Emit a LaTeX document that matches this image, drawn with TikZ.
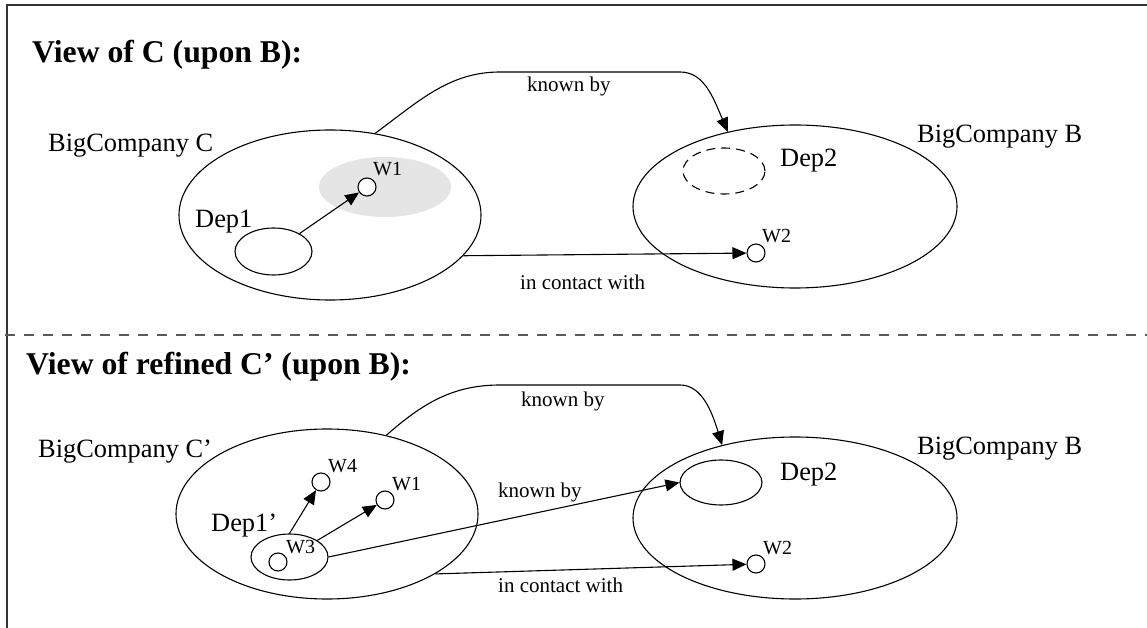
\documentclass[tikz,border=0pt]{standalone}
\usepackage{fontspec}
\setmainfont{Liberation Serif}
\usetikzlibrary{arrows.meta,shapes.geometric}
\tikzset{
  region/.style={draw, ellipse, inner sep=0pt, line width=1.1pt},
  worker/.style={draw, circle, inner sep=0pt, minimum size=18pt, fill=white, line width=1.1pt},
  conn/.style={line width=1.1pt, -{Triangle[length=14pt,width=12pt]}},
  bigtext/.style={anchor=base west, inner sep=0pt, font=\fontsize{26.4}{30}\selectfont},
  smalltext/.style={anchor=base west, inner sep=0pt, font=\fontsize{21}{24}\selectfont},
  wtext/.style={anchor=base west, inner sep=0pt, font=\fontsize{20}{22}\selectfont},
  titletext/.style={anchor=base west, inner sep=0pt, font=\bfseries\fontsize{31.7}{36}\selectfont},
}
\begin{document}
\begin{tikzpicture}[x=1pt,y=-1pt]
\useasboundingbox (0,0) rectangle (1147,628);
\fill[white] (0,0) rectangle (1147,628);

% frame and separator
\draw[line width=1.1pt, black!80] (7,628) -- (7,5) -- (1147,5);
\draw[line width=1.1pt, black!65, dash pattern=on 10pt off 9pt] (5,335) -- (1147,335);

% ---------- upper view ----------
\node[titletext] (t1) at (32,63) {View of C (upon B):};

\node[region, minimum width=302pt, minimum height=170pt] (C) at (330,215) {};
\node[ellipse, fill=black!10, inner sep=0pt, minimum width=132pt, minimum height=60pt] (hl) at (385,187) {};
\node[region, minimum width=77pt, minimum height=47pt] (Dep1) at (273.5,251.5) {};
\node[worker] (W1) at (367,187) {};

\node[region, minimum width=324pt, minimum height=163pt] (B) at (795,206.5) {};
\node[region, dashed, dash pattern=on 9pt off 6pt, minimum width=82pt, minimum height=46pt] (Dep2) at (724,171) {};
\node[worker] (W2) at (756,253) {};

\node[bigtext] (lC) at (48,152) {BigCompany C};
\node[bigtext] (lDep1) at (195,227) {Dep1};
\node[wtext] (lW1) at (373,176) {W1};
\node[bigtext] (lB) at (917,143) {BigCompany B};
\node[bigtext] (lDep2) at (780,167) {Dep2};
\node[wtext] (lW2) at (762,243) {W2};
\node[smalltext] (lk1) at (527,92) {known by};
\node[smalltext] (lc1) at (520,289) {in contact with};

\draw[conn] (Dep1) -- (W1);
\draw[conn] (C.-17.5) -- (W2);
\draw[conn] (C.61) .. controls (420,100) and (450,72) .. (500,72)
  -- (680,72) .. controls (704,72) and (713,97) .. (B.132.4);

% ---------- lower view ----------
\node[titletext] (t2) at (26,374) {View of refined C’ (upon B):};

\node[region, minimum width=302pt, minimum height=170pt] (Cp) at (327,514) {};
\node[region, minimum width=77pt, minimum height=46pt] (Dep1p) at (289.5,557) {};
\node[worker] (W3) at (278,562) {};
\node[worker] (W4) at (321,482) {};
\node[worker] (W1p) at (385,500) {};

\node[region, minimum width=324pt, minimum height=162pt] (Bp) at (795,518) {};
\node[region, minimum width=82pt, minimum height=45pt] (Dep2p) at (721,482.5) {};
\node[worker] (W2p) at (756,564) {};

\node[bigtext] (lCp) at (38,457) {BigCompany C’};
\node[bigtext] (lDep1p) at (211,531) {Dep1’};
\node[wtext] (lW3) at (286,553) {W3};
\node[wtext] (lW4) at (328,472) {W4};
\node[wtext] (lW1p) at (392,490) {W1};
\node[bigtext] (lBp) at (917,454) {BigCompany B};
\node[bigtext] (lDep2p) at (780,480) {Dep2};
\node[wtext] (lW2p) at (763,554) {W2};
\node[smalltext] (lk2) at (521,406) {known by};
\node[smalltext] (lk3) at (498,497) {known by};
\node[smalltext] (lc2) at (498,592) {in contact with};

\draw[conn] (Dep1p.north) -- (W4);
\draw[conn] (Dep1p) -- (W1p);
\draw[conn] (Dep1p.east) -- (Dep2p.west);
\draw[conn] (Cp.-29.5) -- (W2p);
\draw[conn] (Cp.53.4) .. controls (422,404) and (452,385) .. (500,385)
  -- (680,385) .. controls (702,385) and (712,412) .. (Bp.135.8);
\end{tikzpicture}
\end{document}
